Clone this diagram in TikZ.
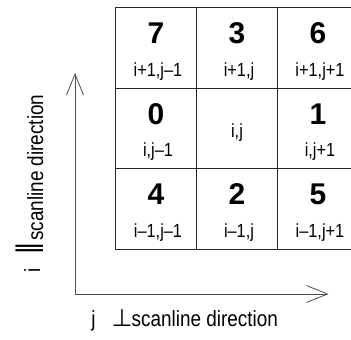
\documentclass[tikz,border=0pt]{standalone}
\usepackage{fontspec}
\setmainfont{Liberation Sans}
\newfontfamily\narrowfont[FakeStretch=0.86]{Liberation Sans}
\newfontfamily\symfont{DejaVu Sans}
\usetikzlibrary{arrows.meta}
\tikzset{
  x=1pt, y=1pt,
  cell/.style={draw=black!85, line width=0.8pt, minimum width=81pt, minimum height=80.5pt, inner sep=0pt},
  digit/.style={anchor=base, inner sep=0pt, font=\fontsize{30}{30}\selectfont\bfseries},
  idx/.style={anchor=base, inner sep=0pt, font=\narrowfont\fontsize{19}{19}\selectfont},
  axis/.style={draw=black!70, line width=0.8pt, -{Straight Barb[length=21pt,width=17pt,line width=0.8pt]}},
  axlabel/.style={inner sep=0pt, font=\narrowfont\fontsize{22}{22}\selectfont},
  axsym/.style={inner sep=0pt, font=\symfont\fontsize{24}{24}\selectfont}
}
\begin{document}
\begin{tikzpicture}
\useasboundingbox (0,0) rectangle (351,340);
\clip (0,0) rectangle (351,340);
% 3x3 neighbourhood of pixel (i,j)
\node[cell] (c11) at (156,292.25) {};
\node[cell] (c12) at (237,292.25) {};
\node[cell] (c13) at (318,292.25) {};
\node[cell] (c21) at (156,211.75) {};
\node[cell] (c22) at (237,211.75) {};
\node[cell] (c23) at (318,211.75) {};
\node[cell] (c31) at (156,131.25) {};
\node[cell] (c32) at (237,131.25) {};
\node[cell] (c33) at (318,131.25) {};
% chain codes
\node[digit] (d7) at ([yshift=-36pt]c11.north) {7};
\node[digit] (d3) at ([yshift=-36pt]c12.north) {3};
\node[digit] (d6) at ([yshift=-36pt]c13.north) {6};
\node[digit] (d0) at ([yshift=-37pt]c21.north) {0};
\node[digit] (d1) at ([yshift=-37pt]c23.north) {1};
\node[digit] (d4) at ([yshift=-36pt]c31.north) {4};
\node[digit] (d2) at ([yshift=-36pt]c32.north) {2};
\node[digit] (d5) at ([yshift=-36pt]c33.north) {5};
% neighbour indices
\node[idx] (n11) at ([xshift=2pt,yshift=-69pt]c11.north) {i+1,j\textendash 1};
\node[idx] (n12) at ([xshift=2pt,yshift=-69pt]c12.north) {i+1,j};
\node[idx] (n13) at ([xshift=2pt,yshift=-69pt]c13.north) {i+1,j+1};
\node[idx] (n21) at ([xshift=2pt,yshift=-69pt]c21.north) {i,j\textendash 1};
\node[idx] (n22) at ([yshift=-50pt]c22.north) {i,j};
\node[idx] (n23) at ([xshift=2pt,yshift=-69pt]c23.north) {i,j+1};
\node[idx] (n31) at ([xshift=2pt,yshift=-69pt]c31.north) {i\textendash 1,j\textendash 1};
\node[idx] (n32) at ([xshift=2pt,yshift=-69pt]c32.north) {i\textendash 1,j};
\node[idx] (n33) at ([xshift=2pt,yshift=-69pt]c33.north) {i\textendash 1,j+1};
% axes
\coordinate (o) at (75,46);
\coordinate (iend) at (75,267);
\coordinate (jend) at (328.5,46);
\draw[axis] (o) -- (iend);
\draw[axis] (o) -- (jend);
% j axis label
\node[axlabel, anchor=base] (jname) at (93.5,13) {j};
\node[axsym, anchor=base] (jsym) at (122,13) {⊥};
\node[axlabel, anchor=base west] (jtext) at (131.5,13) {scanline direction};
% i axis label
\node[axlabel, anchor=base, rotate=90] (iname) at (40,70) {i};
\node[axsym, anchor=base, rotate=90, font=\symfont\fontsize{28}{28}\selectfont] (isym) at (37,91) {∥};
\node[axlabel, anchor=base west, rotate=90] (itext) at (43,99) {scanline direction};
\end{tikzpicture}
\end{document}
